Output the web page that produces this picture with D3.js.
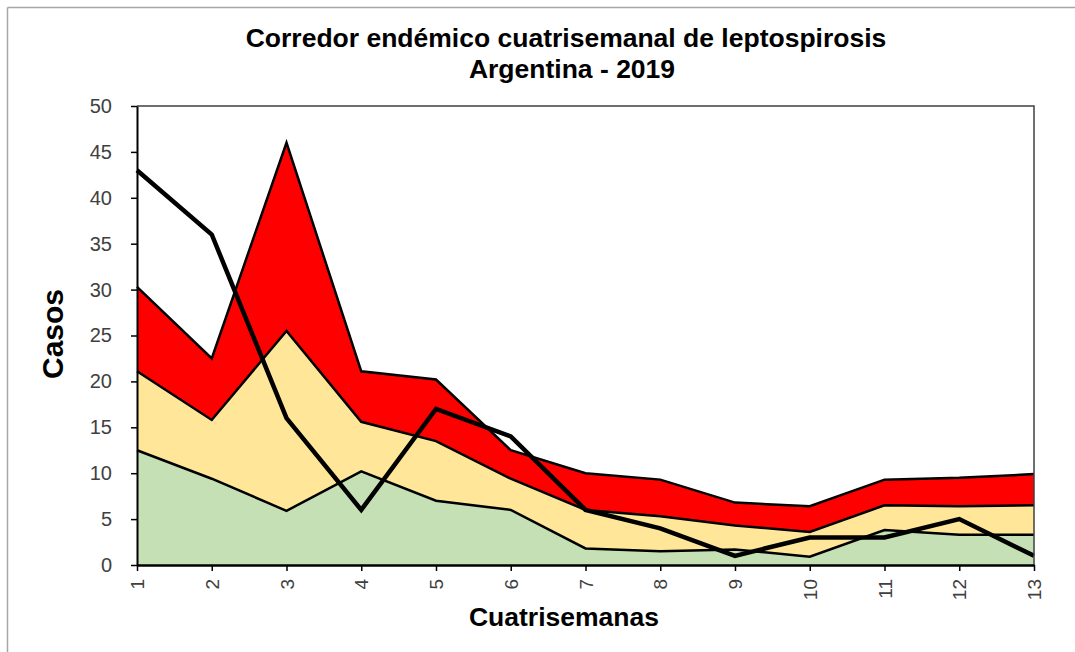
<!DOCTYPE html>
<html>
<head>
<meta charset="utf-8">
<script src="https://cdn.jsdelivr.net/npm/d3@7"></script>
<style>
  html, body { margin: 0; padding: 0; background: #fff; }
  svg { display: block; }
  text { font-family: "Liberation Sans", Arial, sans-serif; }
</style>
</head>
<body>
<svg id="chart" width="1075" height="652"></svg>
<script>
// ---- data ----
const cuatrisemanas = [1, 2, 3, 4, 5, 6, 7, 8, 9, 10, 11, 12, 13];
const exito     = [12.5, 9.4, 5.9, 10.2, 7.0, 6.0, 1.8, 1.5, 1.7, 0.9, 3.8, 3.3, 3.3];
const seguridad = [21.1, 15.8, 25.5, 15.6, 13.5, 9.4, 6.0, 5.3, 4.3, 3.6, 6.5, 6.4, 6.5];
const alerta    = [30.3, 22.5, 46.0, 21.1, 20.2, 12.5, 10.0, 9.3, 6.8, 6.4, 9.3, 9.5, 9.9];
const casos2019 = [43, 36, 16, 6, 17, 14, 6, 4, 1, 3, 3, 5, 1];
const yTicks = [0, 5, 10, 15, 20, 25, 30, 35, 40, 45, 50];
const titleLines = ["Corredor endémico cuatrisemanal de leptospirosis", "Argentina - 2019"];

const svg = d3.select("#chart");
const L = 137, R = 1034, T = 106, B = 565;

const x = d3.scaleLinear().domain([1, 13]).range([L, R]);
const y = d3.scaleLinear().domain([0, 50]).range([B, T]);

// outer frame
svg.append("line").attr("x1", 7.5).attr("x2", 1075).attr("y1", 7.5).attr("y2", 7.5)
  .attr("stroke", "#a6a6a6").attr("stroke-width", 1.5);
svg.append("line").attr("x1", 7.5).attr("x2", 7.5).attr("y1", 7.5).attr("y2", 652)
  .attr("stroke", "#a6a6a6").attr("stroke-width", 1.5);

// title
svg.append("text").attr("x", 566).attr("y", 47).attr("text-anchor", "middle")
  .attr("font-size", 26.5).attr("font-weight", "bold").attr("fill", "#000").text(titleLines[0]);
svg.append("text").attr("x", 572).attr("y", 78).attr("text-anchor", "middle")
  .attr("font-size", 26.5).attr("font-weight", "bold").attr("fill", "#000").text(titleLines[1]);

// areas
const layers = [
  { vals: alerta, fill: "#ff0000" },
  { vals: seguridad, fill: "#ffe699" },
  { vals: exito, fill: "#c5e0b4" }
];
layers.forEach(layer => {
  const area = d3.area().x((d, i) => x(cuatrisemanas[i])).y0(y(0)).y1(d => y(d));
  const line = d3.line().x((d, i) => x(cuatrisemanas[i])).y(d => y(d));
  svg.append("path").datum(layer.vals).attr("d", area).attr("fill", layer.fill);
  svg.append("path").datum(layer.vals).attr("d", line).attr("fill", "none")
    .attr("stroke", "#000").attr("stroke-width", 2.5).attr("stroke-linejoin", "miter");
});

// observed line
const obsLine = d3.line().x((d, i) => x(cuatrisemanas[i])).y(d => y(d));
svg.append("path").datum(casos2019).attr("d", obsLine).attr("fill", "none")
  .attr("stroke", "#000").attr("stroke-width", 4.5).attr("stroke-linejoin", "miter");

// plot border (top and right)
svg.append("path").attr("d", `M${L},${T}H${R}V${B}`).attr("fill", "none")
  .attr("stroke", "#404040").attr("stroke-width", 1.5);

// y axis
const yAxis = svg.append("g").attr("transform", `translate(${L},0)`)
  .call(d3.axisLeft(y).tickValues(yTicks).tickSize(6).tickPadding(19).tickSizeOuter(0));
yAxis.select(".domain").attr("stroke", "#000").attr("stroke-width", 2);
yAxis.selectAll(".tick line").attr("stroke", "#000").attr("stroke-width", 1.5);
yAxis.selectAll(".tick text").attr("font-size", 20).attr("fill", "#404040")
  .attr("font-family", "Liberation Sans, Arial, sans-serif");

// x axis
const xAxis = svg.append("g").attr("transform", `translate(0,${B})`)
  .call(d3.axisBottom(x).tickValues(cuatrisemanas).tickFormat(d3.format("d")).tickSize(6).tickSizeOuter(0));
xAxis.select(".domain").attr("stroke", "#000").attr("stroke-width", 2.5);
xAxis.selectAll(".tick line").attr("stroke", "#000").attr("stroke-width", 1.5);
xAxis.selectAll(".tick text")
  .attr("font-size", 19).attr("fill", "#404040")
  .attr("font-family", "Liberation Sans, Arial, sans-serif")
  .attr("text-anchor", "end")
  .attr("transform", "rotate(-90)")
  .attr("x", -14).attr("y", 0).attr("dy", "0.35em");

// axis titles
svg.append("text").attr("x", 564).attr("y", 626).attr("text-anchor", "middle")
  .attr("font-size", 26.5).attr("font-weight", "bold").attr("fill", "#000").text("Cuatrisemanas");
svg.append("text").attr("transform", "translate(63,334) rotate(-90)").attr("text-anchor", "middle")
  .attr("font-size", 30).attr("font-weight", "bold").attr("fill", "#000").text("Casos");
</script>
</body>
</html>
